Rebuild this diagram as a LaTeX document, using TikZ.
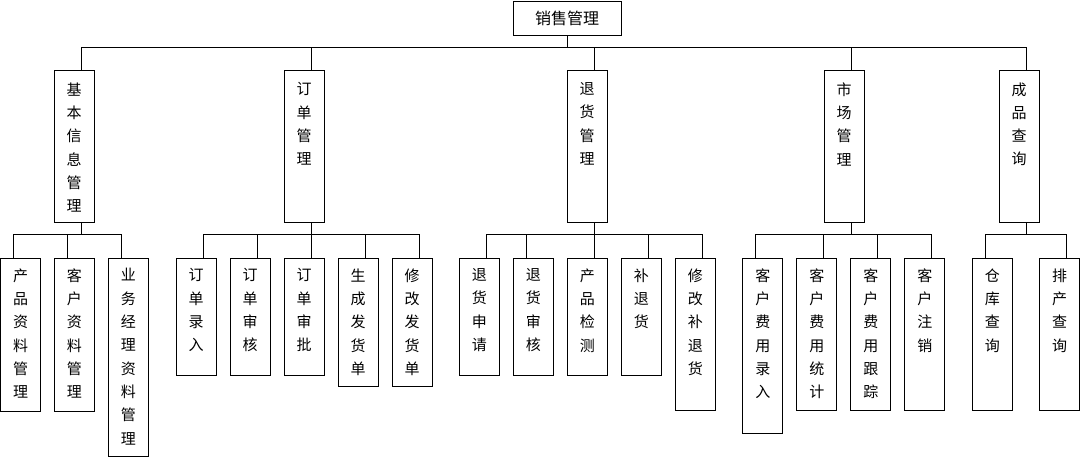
\documentclass[tikz,border=0pt]{standalone}
\usepackage{fontspec}
\setmainfont{Noto Sans CJK SC}
\usetikzlibrary{positioning}

\begin{document}
\begin{tikzpicture}[x=1pt,y=-1pt,line width=1pt,
    box/.style={draw,inner sep=0pt,outer sep=0pt,minimum width=40pt},
    vtext/.style={inner sep=0pt,align=center,font=\fontsize{15}{23.3}\selectfont}]
\useasboundingbox (0,0) rectangle (1082,458);
\coordinate (bus) at (0,47);
\coordinate (sub) at (0,234);

% top
\node[box,minimum width=108pt,minimum height=34pt,font=\fontsize{16}{16}\selectfont] (root) at (567,18) {销售管理};
\draw (root.south) -- (root.south |- bus);

% first level
\foreach \nm/\x/\txt in {jb/74/{基\\本\\信\\息\\管\\理}, dd/304/{订\\单\\管\\理},
    th/587/{退\\货\\管\\理}, sc/844/{市\\场\\管\\理}, cp/1019/{成\\品\\查\\询}} {
  \node[box,minimum height=152pt] (\nm) at (\x,146) {};
  \node[vtext,anchor=north] (\nm-t) at ([yshift=-12pt]\nm.north) {\txt};
  \coordinate (\nm-s) at ([xshift=7pt]\nm.north);
  \coordinate (\nm-b) at ([xshift=7pt]\nm.south);
  \draw (\nm-s) -- (\nm-s |- bus);
  \draw (\nm-b) -- (\nm-b |- sub);
}
\draw (jb-s |- bus) -- (cp-s |- bus);

% second level
\foreach \nm/\x/\h/\dx/\txt in {
    a1/20.5/153/-7/{产\\品\\资\\料\\管\\理}, a2/74.3/153/-7/{客\\户\\资\\料\\管\\理},
    a3/128.3/198/-7/{业\\务\\经\\理\\资\\料\\管\\理},
    b1/196/117/7/{订\\单\\录\\入}, b2/250/117/7/{订\\单\\审\\核}, b3/304/117/7/{订\\单\\审\\批},
    b4/358/128/7/{生\\成\\发\\货\\单}, b5/412/128/7/{修\\改\\发\\货\\单},
    c1/479.3/117/7/{退\\货\\申\\请}, c2/533.3/117/-7/{退\\货\\审\\核}, c3/587.3/117/7/{产\\品\\检\\测},
    c4/641.3/117/7/{补\\退\\货}, c5/695.3/152/7/{修\\改\\补\\退\\货},
    d1/762.8/175/-7/{客\\户\\费\\用\\录\\入}, d2/816.8/152/7/{客\\户\\费\\用\\统\\计},
    d3/870.8/152/7/{客\\户\\费\\用\\跟\\踪}, d4/924.8/152/7/{客\\户\\注\\销},
    e1/992.3/152/-7/{仓\\库\\查\\询}, e2/1059.7/152/7/{排\\产\\查\\询}} {
  \node[box,minimum height=\h pt] (\nm) at (\x,258+\h/2) {};
  \node[vtext,anchor=north] (\nm-t) at ([yshift=-10pt]\nm.north) {\txt};
  \coordinate (\nm-s) at ([xshift=\dx pt]\nm.north);
  \draw (\nm-s) -- (\nm-s |- sub);
}
\draw (a1-s |- sub) -- (a3-s |- sub);
\draw (b1-s |- sub) -- (b5-s |- sub);
\draw (c1-s |- sub) -- (c5-s |- sub);
\draw (d1-s |- sub) -- (d4-s |- sub);
\draw (e1-s |- sub) -- (e2-s |- sub);
\end{tikzpicture}
\end{document}
